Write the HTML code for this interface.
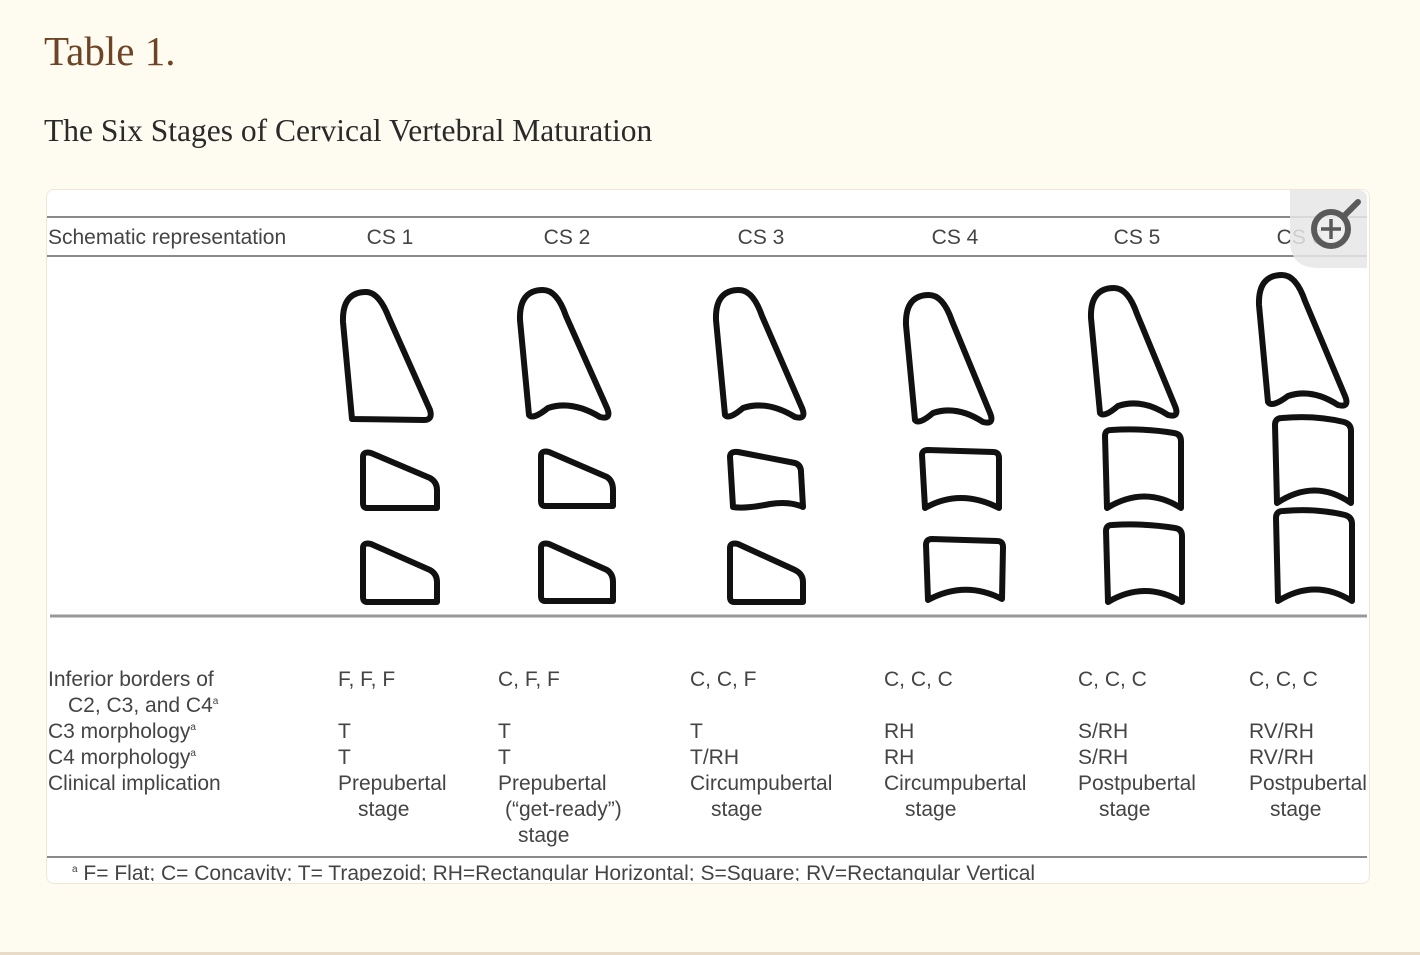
<!DOCTYPE html>
<html><head><meta charset="utf-8"><style>
body{margin:0;width:1420px;height:955px;background:#fefcf0;position:relative;overflow:hidden;font-family:"Liberation Sans",sans-serif}
.t1{position:absolute;left:44px;top:27px;font-family:"Liberation Serif",serif;font-size:41px;color:#6e4426}
.t2{position:absolute;left:44px;top:113px;font-family:"Liberation Serif",serif;font-size:31.5px;color:#2a2a2a}
.card{position:absolute;left:46px;top:189px;width:1322px;height:693px;background:#fff;border:1px solid #f0e6d6;border-radius:8px;overflow:hidden}
svg{position:absolute;left:0;top:0}
</style></head><body>
<div class="t1">Table 1.</div>
<div class="t2">The Six Stages of Cervical Vertebral Maturation</div>
<div class="card"></div>
<svg width="1420" height="955" viewBox="0 0 1420 955">
<defs><clipPath id="c"><rect x="47" y="190" width="1320" height="691" rx="8"/></clipPath></defs>
<g clip-path="url(#c)">
<g stroke="#8a8a8a" stroke-width="2"><line x1="47" y1="217" x2="1368" y2="217"/><line x1="47" y1="256" x2="1368" y2="256"/><line x1="47" y1="857" x2="1368" y2="857"/></g>
<line x1="50" y1="616" x2="1368" y2="616" stroke="#999" stroke-width="3"/>
<g font-size="21" fill="#444">
<text x="48" y="244">Schematic representation</text>
<g text-anchor="middle"><text x="390" y="244">CS 1</text><text x="567" y="244">CS 2</text><text x="761" y="244">CS 3</text><text x="955" y="244">CS 4</text><text x="1137" y="244">CS 5</text><text x="1300" y="244">CS 6</text></g>
<text x="48" y="686">Inferior borders of</text><text x="68" y="712">C2, C3, and C4<tspan font-size="10" dy="-8">a</tspan></text>
<text x="48" y="738">C3 morphology<tspan font-size="10" dy="-8">a</tspan></text>
<text x="48" y="764">C4 morphology<tspan font-size="10" dy="-8">a</tspan></text>
<text x="48" y="790">Clinical implication</text>
<text x="338" y="686">F, F, F</text><text x="338" y="738">T</text><text x="338" y="764">T</text><text x="338" y="790">Prepubertal</text><text x="358" y="816">stage</text>
<text x="498" y="686">C, F, F</text><text x="498" y="738">T</text><text x="498" y="764">T</text><text x="498" y="790">Prepubertal</text><text x="505" y="816">(“get-ready”)</text><text x="518" y="842">stage</text>
<text x="690" y="686">C, C, F</text><text x="690" y="738">T</text><text x="690" y="764">T/RH</text><text x="690" y="790">Circumpubertal</text><text x="711" y="816">stage</text>
<text x="884" y="686">C, C, C</text><text x="884" y="738">RH</text><text x="884" y="764">RH</text><text x="884" y="790">Circumpubertal</text><text x="905" y="816">stage</text>
<text x="1078" y="686">C, C, C</text><text x="1078" y="738">S/RH</text><text x="1078" y="764">S/RH</text><text x="1078" y="790">Postpubertal</text><text x="1099" y="816">stage</text>
<text x="1249" y="686">C, C, C</text><text x="1249" y="738">RV/RH</text><text x="1249" y="764">RV/RH</text><text x="1249" y="790">Postpubertal</text><text x="1270" y="816">stage</text>
<text x="72" y="880"><tspan font-size="10" dy="-8">a</tspan><tspan dy="8"> F= Flat; C= Concavity; T= Trapezoid; RH=Rectangular Horizontal; S=Square; RV=Rectangular Vertical</tspan></text>
</g>
<g fill="none" stroke="#111" stroke-width="6" stroke-linejoin="round">
<path d="M352,419 L343,322 Q342,292 366,292 Q379,292 389,318 L430,410 Q433,420 424,420 Z"/>
<path d="M363,457 Q363,451 371,453 L430,478 Q437,482 437,490 L437,508 L367,508 Q363,508 363,503 Z"/>
<path d="M363,548 Q363,542 371,544 L430,570 Q437,574 437,582 L437,602 L367,602 Q363,602 363,597 Z"/>
<path d="M529,415 L520,320 Q519,290 543,290 Q557,290 566,316 L607,408 Q612,420 600,417 Q572,400 548,408 Q533,420 529,415 Z"/>
<path d="M541,456 Q541,450 549,452 L607,477 Q613,481 613,490 L613,506 L545,506 Q541,506 541,501 Z"/>
<path d="M541,548 Q541,542 549,544 L607,570 Q613,574 613,582 L613,601 L545,601 Q541,601 541,596 Z"/>
<path d="M725,415 L716,320 Q715,290 739,290 Q753,290 762,316 L802,408 Q807,420 795,417 Q767,400 743,408 Q729,420 725,415 Z"/>
<path d="M730,457 Q730,451 738,452 L795,463 Q801,465 801,472 L803,507 Q790,501 770,504 Q745,509 733,507 Z"/>
<path d="M730,548 Q730,542 738,544 L795,570 Q803,574 803,582 L803,602 L734,602 Q730,602 730,597 Z"/>
<path d="M915,420 L906,325 Q905,295 929,295 Q943,295 952,321 L990,413 Q995,425 983,422 Q957,405 933,413 Q919,425 915,420 Z"/>
<path d="M922,455 Q922,450 928,450 L993,452 Q999,452 999,458 L999,508 Q960,488 925,508 Z"/>
<path d="M926,545 Q926,539 932,539 L997,541 Q1003,541 1003,547 L1002,599 Q965,580 928,600 Z"/>
<path d="M1100,413 L1091,318 Q1090,288 1114,288 Q1128,288 1137,314 L1175,406 Q1180,418 1168,415 Q1142,398 1118,406 Q1104,418 1100,413 Z"/>
<path d="M1105,436 Q1105,430 1111,430 Q1145,428 1174,433 Q1181,434 1181,441 L1181,508 Q1145,485 1107,508 Z"/>
<path d="M1106,531 Q1106,525 1112,525 Q1145,523 1175,528 Q1182,529 1182,536 L1182,602 Q1145,580 1108,602 Z"/>
<path d="M1268,402 L1259,305 Q1258,275 1282,275 Q1296,275 1305,301 L1345,396 Q1350,408 1338,405 Q1312,388 1288,396 Q1272,408 1268,402 Z"/>
<path d="M1275,425 Q1275,418 1282,418 Q1315,415 1344,422 Q1351,424 1351,431 L1351,503 Q1315,478 1277,503 Z"/>
<path d="M1276,518 Q1276,511 1283,511 Q1316,508 1345,515 Q1352,517 1352,524 L1352,601 Q1315,578 1278,601 Z"/>
</g>
<path d="M1290,190 L1368,190 L1368,268 L1318,268 Q1290,268 1290,240 Z" fill="#e6e6e6" opacity="0.85"/>
<circle cx="1331" cy="229" r="17" fill="#f2f2f2" fill-opacity="0.6" stroke="#5a5a5a" stroke-width="6"/>
<line x1="1344" y1="216" x2="1358" y2="202" stroke="#5a5a5a" stroke-width="6" stroke-linecap="round"/>
<line x1="1321" y1="229" x2="1341" y2="229" stroke="#5a5a5a" stroke-width="3.5"/>
<line x1="1331" y1="219" x2="1331" y2="239" stroke="#5a5a5a" stroke-width="3.5"/>
</g>
</svg>
<div style="position:absolute;left:0;top:952px;width:1420px;height:3px;background:#e8dcc8"></div>
</body></html>
